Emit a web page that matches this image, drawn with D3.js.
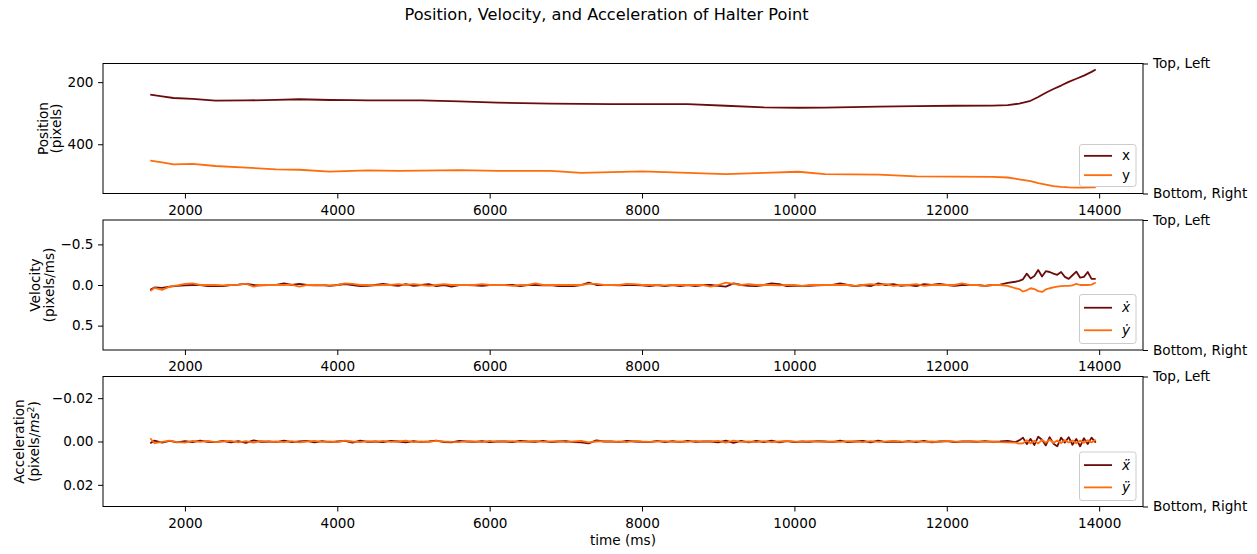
<!DOCTYPE html>
<html>
<head>
<meta charset="utf-8">
<script src="https://cdn.jsdelivr.net/npm/d3@7"></script>
<style>
  html, body { margin: 0; padding: 0; background: #fff; }
  svg { display: block; font-family: "DejaVu Sans", sans-serif; }
</style>
</head>
<body>
<script>
// ---- Halter point track: position (pixels) ----
const posTime = [1545, 1700, 1850, 2100, 2400, 2800, 3200, 3500, 3900, 4200,
  4400, 4800, 5100, 5600, 6100, 6800, 7200, 7600, 8000, 8600,
  9100, 9600, 10050, 10400, 11100, 11600, 12100, 12600, 12800, 12950,
  13100, 13200, 13300, 13400, 13500, 13600, 13700, 13800, 13900, 13955];
const posX = [240, 246, 251, 254, 259.5, 259, 257, 255, 257.5, 258,
  259, 259, 259, 262, 266, 269, 270, 271, 271, 271,
  276, 281.5, 282.5, 282, 279, 277.5, 276, 275.5, 274, 269,
  260, 248, 234, 222, 211, 199, 189, 179, 167, 159];
const posY = [453, 458, 465, 463, 470, 475, 481, 482, 488, 486,
  484, 486, 485, 483, 486, 486, 492, 490, 487.5, 492,
  496, 492, 488.5, 496, 498, 503.5, 504.5, 505, 507, 513,
  519, 525, 530, 534.5, 537.5, 539, 539.5, 539.5, 539, 538.5];

// ---- derivative samples ----
const derivTime = [1545,
  1600, 1700, 1800, 1900, 2000, 2100, 2200, 2300, 2400, 2500,
  2600, 2700, 2800, 2900, 3000, 3100, 3200, 3300, 3400, 3500,
  3600, 3700, 3800, 3900, 4000, 4100, 4200, 4300, 4400, 4500,
  4600, 4700, 4800, 4900, 5000, 5100, 5200, 5300, 5400, 5500,
  5600, 5700, 5800, 5900, 6000, 6100, 6200, 6300, 6400, 6500,
  6600, 6700, 6800, 6900, 7000, 7100, 7200, 7300, 7400, 7500,
  7600, 7700, 7800, 7900, 8000, 8100, 8200, 8300, 8400, 8500,
  8600, 8700, 8800, 8900, 9000, 9100, 9200, 9300, 9400, 9500,
  9600, 9700, 9800, 9900, 10000, 10100, 10200, 10300, 10400, 10500,
  10600, 10700, 10800, 10900, 11000, 11100, 11200, 11300, 11400, 11500,
  11600, 11700, 11800, 11900, 12000, 12100, 12200, 12300, 12400, 12500,
  12600, 12700, 12800, 12900,
  12950, 13000, 13050, 13100, 13150, 13200, 13250, 13300, 13350, 13400,
  13450, 13500, 13550, 13600, 13650, 13700, 13750, 13800, 13850, 13900,
  13955];

// velocity (pixels/ms)
const velX = [0.06,
  0.03, 0.035, 0.02, 0.01, 0.005, 0, 0, 0.015, 0.012, 0.015,
  0, -0.005, -0.015, 0, 0.005, 0, 0, -0.02, 0, -0.015,
  0, 0.005, 0, 0.01, 0, -0.01, 0, 0.015, 0.01, 0,
  -0.015, 0, 0.01, -0.01, 0.01, 0, -0.01, 0.015, 0, 0.02,
  0, 0, 0.005, 0.01, 0, 0, 0, 0, 0.015, 0,
  0, 0.005, 0, 0.015, 0.01, 0.015, 0, -0.03, 0, 0,
  0, 0.005, 0, 0, 0.005, 0.015, 0, 0.015, 0, 0.015,
  0, 0.015, 0, 0, 0.01, 0.02, -0.02, 0, 0.01, 0.015,
  0, -0.02, -0.01, 0.015, 0.01, 0.01, 0.01, 0.005, 0, 0,
  -0.02, 0, 0.015, 0, 0.015, -0.02, 0, -0.01, 0.01, 0,
  0.015, -0.01, 0, -0.015, 0, 0.01, 0, 0, 0, 0.01,
  0, -0.005, -0.025, -0.04,
  -0.05, -0.07, -0.14, -0.08, -0.11, -0.185, -0.105, -0.17, -0.16, -0.14,
  -0.125, -0.16, -0.1, -0.075, -0.12, -0.165, -0.09, -0.1, -0.16, -0.075,
  -0.075];
const velY = [0.075,
  0.035, 0.06, 0.02, 0.005, -0.015, -0.02, 0, 0, 0, 0.005,
  0, -0.005, -0.015, 0.02, 0, 0, 0, 0, -0.005, 0.02,
  0, 0, 0, 0.005, 0, -0.02, -0.015, 0, 0, 0.005,
  0, 0, -0.01, 0, -0.01, 0, 0.01, 0, -0.01, 0,
  0, 0, 0, -0.01, 0, 0, 0, 0.01, 0, 0,
  -0.02, 0, 0, 0, 0, 0, 0, -0.015, -0.015, 0,
  0, 0, -0.015, -0.01, 0, 0, 0, 0.005, 0, 0,
  0, 0, 0, 0.02, 0, -0.03, -0.015, 0, -0.01, 0,
  0, 0, 0.005, 0, 0, 0.01, 0, 0, 0, 0,
  0, 0, 0.01, 0, -0.01, 0, -0.01, 0.01, 0, 0,
  -0.01, 0.01, 0, 0, 0, 0, -0.02, 0, 0, 0.01,
  0, 0, 0.01, 0.04,
  0.05, 0.08, 0.065, 0.04, 0.05, 0.075, 0.085, 0.055, 0.04, 0.03,
  0.02, 0.015, 0.01, 0.01, 0.005, -0.015, 0, 0, 0, -0.005,
  -0.03];

// acceleration (pixels/ms^2)
const accX = [0.0008,
  -0.0004, 0.0005, -0.0003, 0.0004, -0.0002, 0.0003, -0.0004, 0.0002, 0.0003, -0.0003,
  0.0004, -0.0002, 0.0006, -0.0005, 0.0002, 0, 0.0003, -0.0004, 0.0003, 0,
  -0.0003, 0.0004, -0.0002, 0.0003, 0, -0.0003, 0.0005, -0.0004, 0.0002, 0,
  0.0003, -0.0003, 0, 0.0004, -0.0002, 0.0003, 0, -0.0004, 0.0003, 0.0004,
  -0.0003, 0, 0.0002, -0.0002, 0.0003, 0, 0, 0.0003, -0.0003, 0,
  0.0002, -0.0003, 0.0003, 0, -0.0002, 0.0003, 0.0004, 0.0009, -0.0005, 0,
  0, 0.0003, -0.0003, 0, 0.0002, 0.0003, -0.0003, 0.0003, -0.0002, 0.0003,
  -0.0003, 0.0002, 0, 0, 0.0004, -0.0004, 0.0006, -0.0003, 0.0004, -0.0003,
  0.0003, -0.0004, 0.0004, -0.0002, 0.0003, 0, 0.0002, -0.0002, 0, 0.0003,
  -0.0004, 0.0003, 0, -0.0003, 0.0004, -0.0004, 0.0003, 0, 0.0003, -0.0002,
  0.0003, -0.0003, 0.0004, 0, -0.0002, 0.0003, 0, 0, 0.0002, -0.0002,
  0.0002, 0, -0.0003, 0.0003,
  -0.0005, -0.0018, 0.0012, -0.0012, 0.0016, -0.0022, -0.0008, 0.0018, -0.002, 0.001,
  0.0022, -0.0018, 0.0005, -0.002, 0.0015, -0.0012, 0.0022, -0.0015, 0.0012, -0.0018,
  0.0005];
const accY = [-0.0015,
  0.0008, 0.0002, -0.0004, 0.0003, 0.0005, -0.0003, 0.0002, -0.0003, 0.0003, 0,
  -0.0003, 0.0004, -0.0002, 0.0005, -0.0003, 0.0002, 0, 0.0003, -0.0002, 0.0004,
  0, -0.0003, 0.0002, 0, 0.0003, -0.0004, 0, 0.0003, -0.0002, 0.0002,
  -0.0003, 0.0002, 0, -0.0004, 0.0003, 0, 0.0002, -0.0003, 0, 0.0002,
  0.0003, -0.0002, 0, 0.0003, -0.0003, 0.0002, 0, -0.0002, 0.0002, 0,
  -0.0003, 0.0002, 0, -0.0002, 0.0003, 0, -0.0003, 0.0004, 0, -0.0002,
  0.0002, 0, 0.0003, -0.0003, 0, 0.0002, 0, -0.0002, 0.0002, 0,
  0.0002, -0.0003, 0.0002, 0, -0.0003, 0.0005, -0.0004, 0.0002, 0, 0.0003,
  -0.0002, 0.0003, 0, -0.0003, 0, 0.0002, -0.0002, 0, 0.0002, 0,
  0.0002, -0.0002, 0, 0.0003, -0.0002, 0.0002, 0, -0.0003, 0, 0.0002,
  -0.0002, 0.0002, 0, 0.0002, -0.0003, 0, 0.0002, -0.0002, 0, 0.0002,
  0, 0.0003, 0.0004, 0.0005,
  0.001, 0.0008, -0.0006, 0.0008, -0.0004, 0.0009, -0.0007, 0.0005, -0.0008, 0.0006,
  -0.0004, 0.0007, -0.0006, 0.0005, -0.0005, 0.0008, -0.0004, 0.0006, -0.0006, 0.0004,
  -0.0008];

// axis ticks and labels
const timeTicks = [2000, 4000, 6000, 8000, 10000, 12000, 14000];
const posTicks = [200, 400];
const velTicks = [-0.5, 0.0, 0.5];
const velTickLabels = ["\u22120.5", "0.0", "0.5"];
const accTicks = [-0.02, 0.0, 0.02];
const accTickLabels = ["\u22120.02", "0.00", "0.02"];
const velLimits = [-0.8, 0.8];
const accLimits = [-0.03, 0.03];
const sideLabels = ["Top, Left", "Bottom, Right"];

const COLOR_X = "#6b0c0c";
const COLOR_Y = "#ff6c0b";

const W = 1257, H = 554;
const LEFT = 103, RIGHT = 1143, PH = 130;
const FONT = 13.6;

const svg = d3.select("body").append("svg")
  .attr("width", W).attr("height", H)
  .attr("viewBox", `0 0 ${W} ${H}`);
svg.append("rect").attr("width", W).attr("height", H).attr("fill", "#fff");

function padded(ext) {
  const r = ext[1] - ext[0];
  return [ext[0] - 0.05 * r, ext[1] + 0.05 * r];
}

const x = d3.scaleLinear()
  .domain(padded(d3.extent(derivTime.concat(posTime))))
  .range([LEFT, RIGHT]);

// title
svg.append("text")
  .attr("x", 606.5).attr("y", 19.5)
  .attr("text-anchor", "middle")
  .attr("font-size", 16.2)
  .attr("fill", "#000")
  .text("Position, Velocity, and Acceleration of Halter Point");

const panels = [
  {
    top: 63.5,
    domain: padded(d3.extent(posX.concat(posY))),
    ticks: posTicks,
    tickLabels: posTicks.map(String),
    t: posTime,
    series: [{ v: posX, c: COLOR_X, base: "x", mark: "" }, { v: posY, c: COLOR_Y, base: "y", mark: "" }],
    ylabel: ["Position", "(pixels)"],
    labelX: [47.5, 61],
    legend: { top: 144.5, bottom: 186.5 }
  },
  {
    top: 220,
    domain: velLimits,
    ticks: velTicks,
    tickLabels: velTickLabels,
    t: derivTime,
    series: [{ v: velX, c: COLOR_X, base: "x", mark: "\u0307" }, { v: velY, c: COLOR_Y, base: "y", mark: "\u0307" }],
    ylabel: ["Velocity", "(pixels/ms)"],
    labelX: [39.5, 53.5],
    legend: { top: 294.5, bottom: 343.5 }
  },
  {
    top: 376.5,
    domain: accLimits,
    ticks: accTicks,
    tickLabels: accTickLabels,
    t: derivTime,
    series: [{ v: accX, c: COLOR_X, base: "x", mark: "\u0308" }, { v: accY, c: COLOR_Y, base: "y", mark: "\u0308" }],
    ylabel: ["Acceleration", null],
    labelX: [24, 39],
    legend: { top: 452, bottom: 500.5 }
  }
];

panels.forEach((p) => {
  const top = p.top, bottom = p.top + PH;
  const y = d3.scaleLinear().domain(p.domain).range([top, bottom]);
  const g = svg.append("g");

  // data lines
  const line = d3.line().x((d, i) => x(p.t[i])).y(d => y(d));
  p.series.forEach(s => {
    g.append("path")
      .datum(s.v)
      .attr("d", line)
      .attr("fill", "none")
      .attr("stroke", s.c)
      .attr("stroke-width", 1.8)
      .attr("stroke-linejoin", "round")
      .attr("stroke-linecap", "butt");
  });

  // frame
  g.append("rect")
    .attr("x", LEFT).attr("y", top)
    .attr("width", RIGHT - LEFT).attr("height", PH)
    .attr("fill", "none").attr("stroke", "#000").attr("stroke-width", 1);

  // left axis
  const ya = d3.axisLeft(y).tickValues(p.ticks)
    .tickFormat((d, i) => p.tickLabels[i])
    .tickSize(5).tickPadding(4.5);
  const gy = g.append("g").attr("transform", `translate(${LEFT},0)`).call(ya);
  gy.select(".domain").remove();
  gy.selectAll("text").attr("font-family", "DejaVu Sans").attr("font-size", FONT).attr("fill", "#000");
  gy.selectAll("line").attr("stroke", "#000");

  // bottom axis
  const xa = d3.axisBottom(x).tickValues(timeTicks).tickFormat(d3.format("d"))
    .tickSize(5).tickPadding(6.5);
  const gx = g.append("g").attr("transform", `translate(0,${bottom})`).call(xa);
  gx.select(".domain").remove();
  gx.selectAll("text").attr("font-family", "DejaVu Sans").attr("font-size", FONT).attr("fill", "#000");
  gx.selectAll("line").attr("stroke", "#000");

  // right side labels at top and bottom edges
  const ySide = d3.scalePoint().domain(sideLabels).range([top, bottom]);
  const ra = d3.axisRight(ySide).tickSize(5).tickPadding(5);
  const gr = g.append("g").attr("transform", `translate(${RIGHT},0)`).call(ra);
  gr.select(".domain").remove();
  gr.selectAll("text").attr("font-family", "DejaVu Sans").attr("font-size", FONT).attr("fill", "#000");
  gr.selectAll("line").attr("stroke", "#000");

  // y label (two lines, rotated)
  const cy = top + PH / 2;
  g.append("text")
    .attr("transform", `translate(${p.labelX[0]},${cy}) rotate(-90)`)
    .attr("text-anchor", "middle").attr("font-size", FONT).attr("fill", "#000")
    .text(p.ylabel[0]);
  const l2 = g.append("text")
    .attr("transform", `translate(${p.labelX[1]},${cy}) rotate(-90)`)
    .attr("text-anchor", "middle").attr("font-size", FONT).attr("fill", "#000");
  if (p.ylabel[1] !== null) {
    l2.text(p.ylabel[1]);
  } else {
    l2.append("tspan").text("(pixels/");
    l2.append("tspan").attr("font-style", "italic").text("ms");
    l2.append("tspan").attr("font-size", FONT * 0.7).attr("dy", -5.5).text("2");
    l2.append("tspan").attr("dy", 5.5).text(")");
  }

  // legend
  const lg = g.append("g");
  lg.append("rect")
    .attr("x", 1079.5).attr("y", p.legend.top)
    .attr("width", 56.5).attr("height", p.legend.bottom - p.legend.top)
    .attr("rx", 2.5).attr("ry", 2.5)
    .attr("fill", "#fff").attr("fill-opacity", 0.8)
    .attr("stroke", "#cccccc").attr("stroke-width", 1);
  const h = p.legend.bottom - p.legend.top;
  p.series.forEach((s, i) => {
    const ly = p.legend.top + h * (i === 0 ? 0.27 : 0.73);
    lg.append("line")
      .attr("x1", 1084).attr("x2", 1112)
      .attr("y1", ly).attr("y2", ly)
      .attr("stroke", s.c).attr("stroke-width", 1.8);
    const t = lg.append("text")
      .attr("x", 1122).attr("y", ly + 4.5)
      .attr("font-size", FONT).attr("fill", "#000");
    if (s.mark === "") {
      t.text(s.base);
    } else {
      t.attr("font-style", "italic").text(s.base + s.mark);
    }
  });
});

// x-axis label
svg.append("text")
  .attr("x", (LEFT + RIGHT) / 2).attr("y", 545)
  .attr("text-anchor", "middle").attr("font-size", FONT).attr("fill", "#000")
  .text("time (ms)");
</script>
</body>
</html>
